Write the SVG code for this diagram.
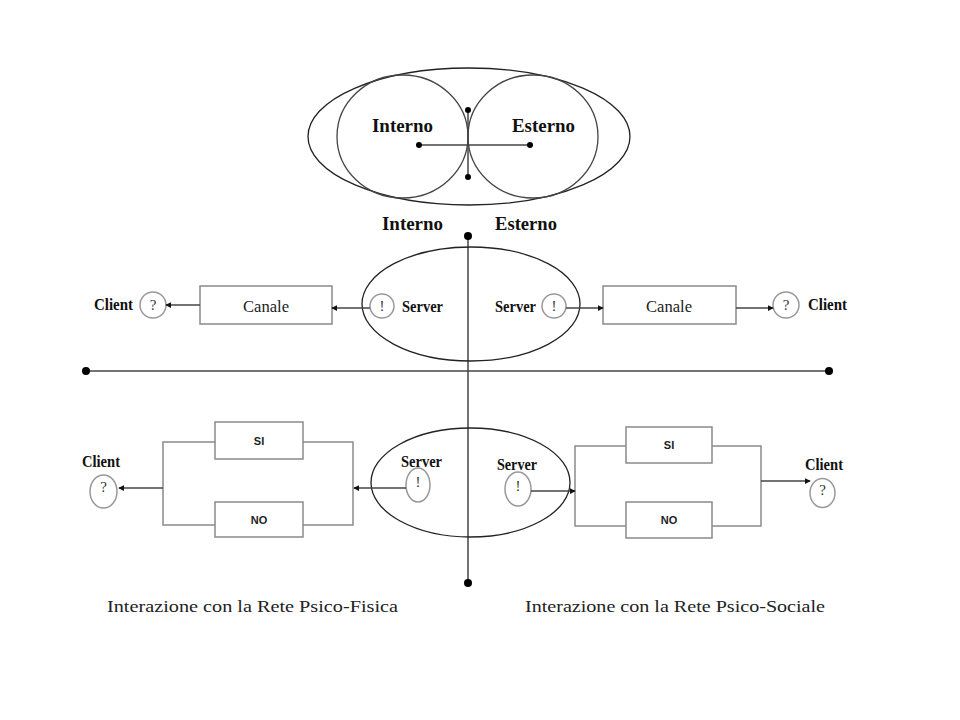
<svg xmlns="http://www.w3.org/2000/svg" width="960" height="720" viewBox="0 0 960 720">
<defs>
<style>
.bold{font-family:"Liberation Serif","Times New Roman",serif;font-weight:bold;fill:#111}
.ser{font-family:"Liberation Serif","Times New Roman",serif;fill:#222}
.sym-t{font-family:"Liberation Serif","Times New Roman",serif;fill:#333;font-size:15px}
.sans{font-family:"Liberation Sans",Arial,sans-serif;font-weight:bold;fill:#222;font-size:11px}
.box{fill:none;stroke:#8a8a8a;stroke-width:1.5}
.sym{fill:none;stroke:#999;stroke-width:1.5}
.ell{fill:none;stroke:#222;stroke-width:1.3}
.thin{fill:none;stroke:#444;stroke-width:1.3}
.conn{fill:none;stroke:#444;stroke-width:1.5}
.br{fill:none;stroke:#8a8a8a;stroke-width:1.5}
.dot{fill:#000}
</style>
<marker id="ah" viewBox="0 0 8 8" refX="7" refY="4" markerWidth="6" markerHeight="6" markerUnits="userSpaceOnUse" orient="auto">
<path d="M0,0 L8,4 L0,8 z" fill="#111"/>
</marker>
</defs>
<rect width="960" height="720" fill="#fff"/>

<g id="top-diagram">
<ellipse class="ell" cx="469" cy="136.5" rx="161" ry="68.5"/>
<ellipse class="thin" cx="402.5" cy="136.5" rx="65.5" ry="61.5"/>
<ellipse class="thin" cx="533" cy="136.5" rx="65" ry="61.5"/>
<line class="conn" x1="419" y1="145" x2="530" y2="145"/>
<line class="conn" x1="468" y1="110" x2="468" y2="177"/>
<circle class="dot" cx="419" cy="145" r="3"/>
<circle class="dot" cx="530" cy="145" r="3"/>
<circle class="dot" cx="468" cy="110" r="3"/>
<circle class="dot" cx="468" cy="177" r="3"/>
<text class="bold" x="372" y="132" font-size="18" textLength="61" lengthAdjust="spacingAndGlyphs">Interno</text>
<text class="bold" x="512" y="132" font-size="18" textLength="63" lengthAdjust="spacingAndGlyphs">Esterno</text>
</g>

<g id="axis-labels">
<text class="bold" x="382" y="230" font-size="18" textLength="61" lengthAdjust="spacingAndGlyphs">Interno</text>
<text class="bold" x="495" y="230" font-size="18" textLength="62" lengthAdjust="spacingAndGlyphs">Esterno</text>
</g>

<g id="axes">
<line class="conn" x1="468" y1="236" x2="468" y2="583"/>
<line class="conn" x1="86" y1="371" x2="829" y2="371"/>
<circle class="dot" cx="468" cy="236" r="4"/>
<circle class="dot" cx="468" cy="583" r="4"/>
<circle class="dot" cx="86" cy="371" r="4"/>
<circle class="dot" cx="829" cy="371" r="4"/>
</g>

<g id="middle-ellipse">
<ellipse class="ell" cx="471" cy="304" rx="109" ry="57"/>
</g>

<g id="mid-left-client">
<text class="bold" x="94" y="310" font-size="16" textLength="39" lengthAdjust="spacingAndGlyphs">Client</text>
<circle class="sym" cx="153" cy="305" r="13"/>
<text class="sym-t" x="153" y="310" text-anchor="middle">?</text>
</g>
<g id="mid-left-canale">
<rect class="box" x="200" y="286" width="132" height="38"/>
<text class="ser" x="266" y="312" font-size="17" textLength="46" lengthAdjust="spacingAndGlyphs" text-anchor="middle">Canale</text>
</g>
<g id="mid-left-server">
<circle class="sym" cx="382" cy="306" r="12"/>
<text class="sym-t" x="382" y="311" text-anchor="middle">!</text>
<text class="bold" x="402" y="312" font-size="16" textLength="41" lengthAdjust="spacingAndGlyphs">Server</text>
</g>

<g id="mid-right-server">
<text class="bold" x="495" y="312" font-size="16" textLength="41" lengthAdjust="spacingAndGlyphs">Server</text>
<circle class="sym" cx="554" cy="306" r="12"/>
<text class="sym-t" x="554" y="311" text-anchor="middle">!</text>
</g>
<g id="mid-right-canale">
<rect class="box" x="603" y="286" width="133" height="38"/>
<text class="ser" x="669" y="312" font-size="17" textLength="46" lengthAdjust="spacingAndGlyphs" text-anchor="middle">Canale</text>
</g>
<g id="mid-right-client">
<circle class="sym" cx="786" cy="305" r="13"/>
<text class="sym-t" x="786" y="310" text-anchor="middle">?</text>
<text class="bold" x="808" y="310" font-size="16" textLength="39" lengthAdjust="spacingAndGlyphs">Client</text>
</g>

<g id="bottom-ellipse">
<ellipse class="ell" cx="470.5" cy="482.5" rx="99.5" ry="54.5"/>
</g>

<g id="bot-left-client">
<text class="bold" x="82" y="467" font-size="16" textLength="38" lengthAdjust="spacingAndGlyphs">Client</text>
<ellipse class="sym" cx="103.5" cy="491.5" rx="13.5" ry="16.5"/>
<text class="sym-t" x="103.5" y="492" text-anchor="middle">?</text>
</g>
<g id="bot-left-si">
<rect class="box" x="215" y="422" width="88" height="37"/>
<text class="sans" x="259" y="445" text-anchor="middle">SI</text>
</g>
<g id="bot-left-no">
<rect class="box" x="215" y="502" width="88" height="35"/>
<text class="sans" x="259" y="524" text-anchor="middle">NO</text>
</g>
<g id="bot-left-server">
<text class="bold" x="401" y="467" font-size="16" textLength="41" lengthAdjust="spacingAndGlyphs">Server</text>
<ellipse class="sym" cx="418" cy="485" rx="12" ry="17"/>
<text class="sym-t" x="418" y="487" text-anchor="middle">!</text>
</g>

<g id="bot-right-server">
<text class="bold" x="497" y="470" font-size="16" textLength="40" lengthAdjust="spacingAndGlyphs">Server</text>
<ellipse class="sym" cx="518" cy="489" rx="13" ry="17"/>
<text class="sym-t" x="518" y="491" text-anchor="middle">!</text>
</g>
<g id="bot-right-si">
<rect class="box" x="626" y="427" width="86" height="36"/>
<text class="sans" x="669" y="449" text-anchor="middle">SI</text>
</g>
<g id="bot-right-no">
<rect class="box" x="626" y="502" width="86" height="36"/>
<text class="sans" x="669" y="524" text-anchor="middle">NO</text>
</g>
<g id="bot-right-client">
<text class="bold" x="805" y="470" font-size="16" textLength="38" lengthAdjust="spacingAndGlyphs">Client</text>
<ellipse class="sym" cx="822.5" cy="493" rx="12.5" ry="14.5"/>
<text class="sym-t" x="822.5" y="495" text-anchor="middle">?</text>
</g>

<g id="connectors">
<line class="conn" x1="200" y1="305" x2="166" y2="305" marker-end="url(#ah)"/>
<line class="conn" x1="370" y1="308" x2="332" y2="308" marker-end="url(#ah)"/>
<line class="conn" x1="566" y1="308" x2="603" y2="308" marker-end="url(#ah)"/>
<line class="conn" x1="736" y1="308" x2="773" y2="308" marker-end="url(#ah)"/>
<path class="br" d="M215,442 H163 V525 H215 M303,442 H353 V525 H303"/>
<line class="conn" x1="163" y1="488" x2="119" y2="488" marker-end="url(#ah)"/>
<line class="conn" x1="406" y1="488" x2="354" y2="488" marker-end="url(#ah)"/>
<path class="br" d="M626,446 H575 V526 H626 M712,446 H761 V526 H712"/>
<line class="conn" x1="531" y1="491" x2="575" y2="491" marker-end="url(#ah)"/>
<line class="conn" x1="761" y1="481" x2="810" y2="481" marker-end="url(#ah)"/>
</g>

<g id="captions">
<text class="ser" x="107" y="612" font-size="17" textLength="291" lengthAdjust="spacingAndGlyphs">Interazione con la Rete Psico-Fisica</text>
<text class="ser" x="525" y="612" font-size="17" textLength="300" lengthAdjust="spacingAndGlyphs">Interazione con la Rete Psico-Sociale</text>
</g>
</svg>
